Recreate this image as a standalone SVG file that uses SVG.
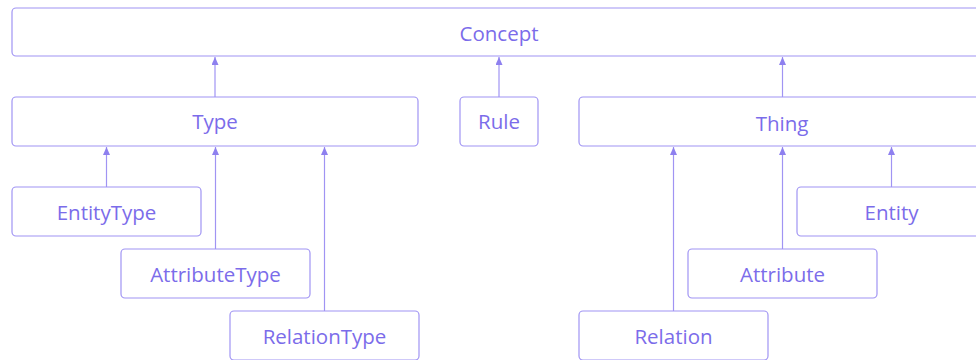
<svg xmlns="http://www.w3.org/2000/svg" width="976" height="360" viewBox="0 0 976 360">
<style>
.n rect{fill:#fff;stroke:#a094f3;stroke-width:1.2}
.n text{font-family:"Open Sans","Liberation Sans",sans-serif;font-size:20.5px;fill:#7b6cea;text-anchor:middle;dominant-baseline:central}
.c line{stroke:#a094f3;stroke-width:1.2;marker-end:url(#ah)}
</style>
<defs>
<marker id="ah" viewBox="0 0 8 7" refX="8" refY="3.5" markerWidth="8" markerHeight="7" markerUnits="userSpaceOnUse" orient="auto">
<path d="M0,0 L8,3.5 L0,7 Z" fill="#8e80ef"/>
</marker>
</defs>
<rect width="976" height="360" fill="#fff"/>
<g id="connectors" class="c">
<line x1="215" y1="97" x2="215" y2="57"/>
<line x1="499" y1="97" x2="499" y2="57"/>
<line x1="782.5" y1="97" x2="782.5" y2="57"/>
<line x1="106.5" y1="187" x2="106.5" y2="147"/>
<line x1="215.5" y1="249" x2="215.5" y2="147"/>
<line x1="324.5" y1="311" x2="324.5" y2="147"/>
<line x1="673.5" y1="311" x2="673.5" y2="147"/>
<line x1="782.5" y1="249" x2="782.5" y2="147"/>
<line x1="891.5" y1="187" x2="891.5" y2="147"/>
</g>
<g id="concept" class="n"><rect x="12" y="8" width="974" height="48" rx="4"/><text x="499" y="33">Concept</text></g>
<g id="type" class="n"><rect x="12" y="97" width="406" height="49" rx="4"/><text x="215" y="121">Type</text></g>
<g id="rule" class="n"><rect x="460" y="97" width="78" height="49" rx="4"/><text x="499" y="121">Rule</text></g>
<g id="thing" class="n"><rect x="579" y="97" width="407" height="49" rx="4"/><text x="782" y="123">Thing</text></g>
<g id="entitytype" class="n"><rect x="12" y="187" width="189" height="49" rx="4"/><text x="106.5" y="212">EntityType</text></g>
<g id="attributetype" class="n"><rect x="121" y="249" width="189" height="49" rx="4"/><text x="215.5" y="274">AttributeType</text></g>
<g id="relationtype" class="n"><rect x="230" y="311" width="189" height="49" rx="4"/><text x="324.5" y="336">RelationType</text></g>
<g id="relation" class="n"><rect x="579" y="311" width="189" height="49" rx="4"/><text x="673.5" y="336">Relation</text></g>
<g id="attribute" class="n"><rect x="688" y="249" width="189" height="49" rx="4"/><text x="782.5" y="274">Attribute</text></g>
<g id="entity" class="n"><rect x="797" y="187" width="189" height="49" rx="4"/><text x="891.5" y="212">Entity</text></g>
</svg>
